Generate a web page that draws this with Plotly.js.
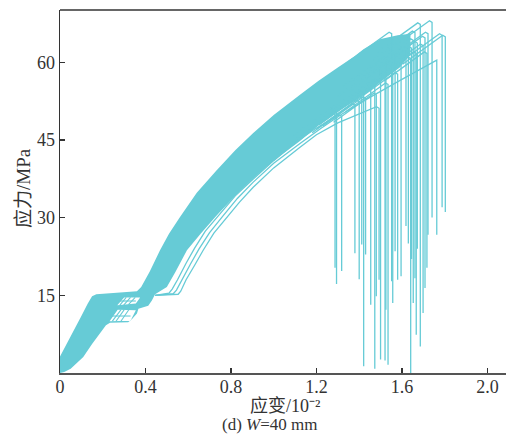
<!DOCTYPE html>
<html>
<head>
<meta charset="utf-8">
<script src="https://cdn.plot.ly/plotly-3.0.1.min.js"></script>
<style>html,body{margin:0;padding:0;background:#fff;overflow:hidden}#chart{width:506px;height:435px;overflow:hidden}</style>
</head>
<body>
<div id="chart"></div>
<script>
// Dense part of the bundle of curves (outline, with the two open windows at the plateau)
const bandStrain = [0,.05,.1,.13,.15,.17,.2,.36,.38,.42,.468,.51,.56,.64,.73,.82,.903,1,1.123,1.21,1.3,1.38,1.42,1.5,1.58,1.64,
  1.64,1.59,1.52,1.45,1.38,1.3,1.21,1.123,1,.903,.82,.735,.66,.594,.54,.5,.445,.43,.413,.38,.367,.36,.34,
  .33,.355,.355,.375,.3,.268,.355,.355,.27,.232,.33,.34,
  .319,.234,.215,.15,.109,.05,.02,0,0];
const bandStress = [3.2,7,11,13.4,14.8,15.2,15.3,15.8,16.6,19.6,23.7,26.9,30,34.8,39,43,46.3,49.8,53.7,56.4,59,61.2,62.5,64.5,65.2,65.5,
  61.5,59,56.8,54.5,52.5,50.5,47.8,44.8,41,37.5,34.2,30.5,27,23.7,19.5,16.6,15.2,14,13,12.6,12.4,11.5,10.5,
  10.1,12.1,13.4,14.6,14.6,13.1,13.4,12.1,12.2,10,10.1,10.5,
  9.8,9.7,9.2,5.6,3.1,.8,.2,0,3.2];

// Strands crossing the plateau windows
const strandStrain = [[.245,.285],[.262,.3],[.285,.322],[.28,.31],[.298,.33],[.32,.352],[.232,.33],[.268,.355]];
const strandStress = [[10,12.2],[10,12.2],[10,12.2],[13.1,14.6],[13.1,14.6],[13.2,14.6],[11,11],[13.9,13.9]];

// Outlying full curves on the lower side of the bundle
const outerStrain = [
  [.445,.553,.565,.59,.63,.67,.72,.78,.84,.903,1,1.123,1.2,1.3,1.4,1.481,1.493,1.493],
  [.445,.53,.545,.57,.61,.65,.7,.76,.83,.903,1,1.123,1.22,1.32,1.45,1.6,1.75,1.763,1.763],
  [.445,.51,.525,.55,.59,.63,.68,.745,.82,.903,1,1.1,1.2,1.306,1.318,1.318]];
const outerStress = [
  [15,15.2,15.8,18,20.8,23.7,27,30,33,35.8,39.6,43.6,46,48.3,50,51.4,51.1,18],
  [15,15.3,16,18,21,23.9,27.1,30.2,33.7,36.8,40.5,44.3,47.2,50,53.2,56.7,60.2,60.4,26.7],
  [15,15.4,16.2,18,21.2,24.1,27.4,30.6,34.2,37.4,41,44.5,47.3,49.8,49.6,19.7]];

// Last stretch of each specimen, up to its peak and down the fracture drop
const fractureStrain = [
  [1.087,1.207,1.275,1.287,1.287],[1.094,1.214,1.282,1.294,1.294],[1.18,1.3,1.368,1.38,1.38],
  [1.2,1.32,1.388,1.4,1.4],[1.212,1.332,1.4,1.412,1.412],[1.221,1.341,1.409,1.421,1.421],
  [1.23,1.35,1.418,1.43,1.43],[1.254,1.374,1.442,1.454,1.454],[1.273,1.393,1.461,1.473,1.473],
  [1.28,1.4,1.468,1.48,1.48],[1.3,1.42,1.488,1.5,1.5],[1.321,1.441,1.509,1.521,1.521],
  [1.325,1.445,1.513,1.525,1.525],[1.335,1.455,1.523,1.535,1.535],[1.352,1.472,1.54,1.552,1.552],
  [1.357,1.477,1.545,1.557,1.557],[1.368,1.488,1.556,1.568,1.568],[1.38,1.5,1.568,1.58,1.58],
  [1.396,1.516,1.584,1.596,1.596],[1.419,1.539,1.607,1.619,1.619],[1.43,1.55,1.618,1.63,1.63],[1.441,1.561,1.629,1.641,1.641],
  [1.445,1.565,1.633,1.645,1.645],[1.453,1.573,1.641,1.653,1.653],[1.461,1.581,1.649,1.661,1.661],[1.467,1.587,1.655,1.667,1.667],
  [1.472,1.592,1.66,1.672,1.672],[1.486,1.606,1.674,1.686,1.686],[1.499,1.619,1.687,1.699,1.699],[1.508,1.628,1.696,1.708,1.708],
  [1.517,1.637,1.705,1.717,1.717],[1.522,1.642,1.71,1.722,1.722],[1.541,1.661,1.729,1.741,1.741],
  [1.588,1.708,1.776,1.788,1.788],[1.603,1.723,1.791,1.803,1.803]];
const fractureStress = [
  [44.6,48.2,50.2,49.9,20.3],[45.9,49.5,51.5,51.2,17.2],[46.4,50,52,51.7,23.1],
  [47.1,50.7,52.7,52.4,18.1],[47.9,51.5,53.5,53.2,24.8],[48.9,52.5,54.5,54.2,1.3],
  [47.7,51.3,53.3,53,22.9],[49.4,53,55,54.7,13.2],[50.9,54.5,56.5,56.2,.8],
  [48.4,52,54,53.7,14.8],[53.4,57,59,58.7,2.6],[51.4,55,57,56.7,2.4],
  [55.4,59,61,60.7,12.2],[50.4,54,56,55.7,1.6],[60.2,63.8,65.8,65.5,17.7],
  [54.4,58,60,59.7,13.5],[56.4,60,62,61.7,23.5],[52.4,56,58,57.7,18],
  [54.4,58,60,59.7,18.7],[57.4,61,63,62.7,28.4],[56.9,60.5,62.5,62.2,25],[55.4,59,61,60.7,0],
  [57.4,61,63,62.7,22],[58.9,62.5,64.5,64.2,13.5],[60.4,64,66,65.7,18.3],[56.4,60,62,61.7,7.4],
  [58.4,62,64,63.7,24],[62,65.6,67.6,67.3,5.1],[57.9,61.5,63.5,63.2,11.6],[59.4,63,65,64.7,16.4],
  [56.4,60,62,61.7,20.3],[60.2,63.8,65.8,65.5,26.7],[62.4,66,68,67.7,30],
  [59.9,63.5,65.5,65.2,32],[59.6,63.2,65.2,64.9,31.1]];

const xTickVals = [0,.4,.8,1.2,1.6,2.0];
const xTickText = ["0","0.4","0.8","1.2","1.6","2.0"];
const yTickVals = [15,30,45,60];
const yTickText = ["15","30","45","60"];

const teal = "#66CBD6";
const serif = "'Liberation Serif','Noto Sans CJK SC',serif";
const ink = "#333333";

const traces = [{x:bandStrain,y:bandStress,mode:"lines",fill:"toself",fillcolor:teal,line:{width:0,color:teal},hoverinfo:"skip"}];
const addLines = (xs,ys,w) => xs.forEach((x,i)=>traces.push({x:x,y:ys[i],mode:"lines",line:{color:teal,width:w},hoverinfo:"skip"}));
addLines(strandStrain,strandStress,1.1);
addLines(outerStrain,outerStress,1.3);
addLines(fractureStrain,fractureStress,1.3);

const px = v => (v-60)/446, py = v => (373-v)/363;
const layout = {
  width:506,height:435,showlegend:false,
  paper_bgcolor:"#fff",plot_bgcolor:"#fff",
  margin:{l:60,r:0,t:10,b:62,pad:0},
  font:{family:serif,size:18,color:ink},
  xaxis:{range:[0,2.087],tickmode:"array",tickvals:xTickVals,ticktext:xTickText,ticks:"inside",ticklen:5,tickwidth:1.2,tickcolor:ink,
    ticklabelstandoff:-4,
    showline:true,linecolor:"#555555",linewidth:2,showgrid:false,zeroline:false,automargin:false,
    tickfont:{family:serif,size:18,color:ink}},
  yaxis:{range:[0,70.08],tickmode:"array",tickvals:yTickVals,ticktext:yTickText,ticks:"inside",ticklen:5,tickwidth:1.2,tickcolor:ink,
    showline:true,linecolor:ink,linewidth:1.5,showgrid:false,zeroline:false,automargin:false,
    tickfont:{family:serif,size:18,color:ink}},
  shapes:[{type:"line",xref:"paper",yref:"paper",x0:0,x1:1,y0:1,y1:1,line:{color:ink,width:1.5}}],
  annotations:[
    {text:"应变/10⁻²",xref:"paper",yref:"paper",x:px(285),y:py(406),xanchor:"center",yanchor:"middle",showarrow:false,font:{family:serif,size:18,color:ink}},
    {text:"应力/MPa",xref:"paper",yref:"paper",x:px(24),y:py(188),xanchor:"center",yanchor:"middle",textangle:-90,showarrow:false,font:{family:serif,size:19,color:ink}},
    {text:"(d) <i>W</i>=40 mm",xref:"paper",yref:"paper",x:px(270),y:py(424.5),xanchor:"center",yanchor:"middle",showarrow:false,font:{family:serif,size:17,color:ink}}
  ]
};
Plotly.newPlot("chart",traces,layout,{displayModeBar:false,staticPlot:true});
</script>
</body>
</html>
